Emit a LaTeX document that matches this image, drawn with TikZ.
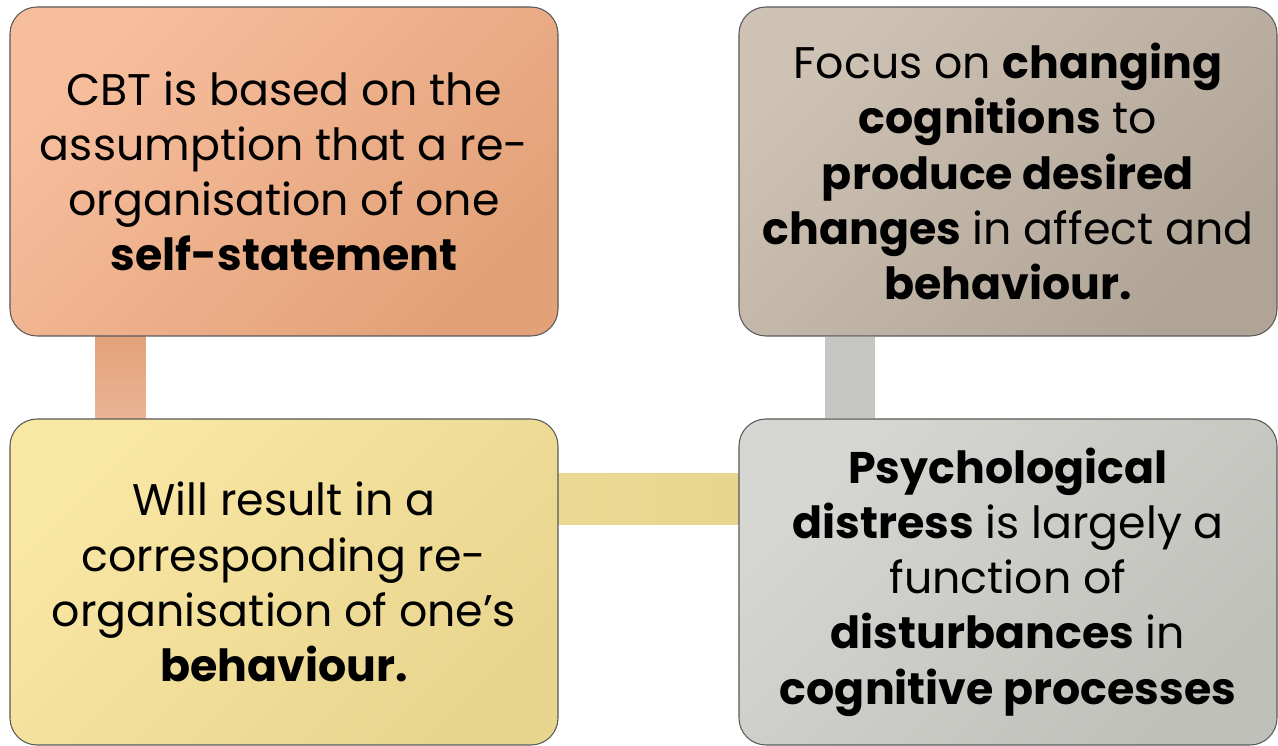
\documentclass[tikz,border=0pt]{standalone}
\usepackage{fontspec}
\setmainfont{Poppins}
\usepackage{tikz}
\usetikzlibrary{positioning, calc, backgrounds}
\definecolor{cbtlight}{RGB}{247, 190, 157}
\definecolor{cbtdark}{RGB}{226, 161, 120}
\definecolor{focuslight}{RGB}{206, 194, 180}
\definecolor{focusdark}{RGB}{176, 164, 150}
\definecolor{resultlight}{RGB}{249, 231, 164}
\definecolor{resultdark}{RGB}{232, 213, 142}
\definecolor{distresslight}{RGB}{214, 214, 210}
\definecolor{distressdark}{RGB}{192, 192, 187}

\tikzset{
    card/.style={draw=black!65, line width=0.6pt, rounded corners=0.54cm, align=center,
        font=\fontsize{25.2}{31.4}\selectfont},
}

\begin{document}
\begin{tikzpicture}
        \useasboundingbox (0,0) rectangle (25.56,14.92);

        % CBT Box
        \node[card, top color=cbtlight, bottom color=cbtdark, shading angle=45,
              minimum width=10.96cm, minimum height=6.58cm] (cbt) at (5.68,11.49) {
            CBT is based on the\\ assumption that a re-\\ organisation of one\\ \textbf{self-statement}
        };

        % Focus Box
        \node[card, top color=focuslight, bottom color=focusdark, shading angle=45,
              minimum width=10.76cm, minimum height=6.58cm] (focus) at (20.16,11.49) {
            Focus on \textbf{changing}\\ \textbf{cognitions} to\\ \textbf{produce desired}\\ \textbf{changes} in affect and\\ \textbf{behaviour.}
        };

        % Result Box
        \node[card, top color=resultlight, bottom color=resultdark, shading angle=45,
              minimum width=10.96cm, minimum height=6.52cm] (result) at (5.68,3.28) {
            Will result in a\\ corresponding re-\\ organisation of one’s\\ \textbf{behaviour.}
        };

        % Distress Box
        \node[card, top color=distresslight, bottom color=distressdark, shading angle=45,
              minimum width=10.76cm, minimum height=6.52cm] (distress) at (20.16,3.28) {
            \textbf{Psychological}\\ \textbf{distress} is largely a\\ function of\\ \textbf{disturbances} in\\ \textbf{cognitive processes}
        };

        % Links
        \begin{scope}[on background layer]
            \shade[top color=cbtdark, bottom color=cbtlight!95!black]
                ([xshift=1.72cm]cbt.south west) rectangle ([xshift=2.72cm]result.north west);
            \shade[left color=resultdark!80!resultlight, right color=resultdark]
                ([yshift=-1.1cm]result.north east) rectangle ([yshift=-2.12cm]distress.north west);
            \fill[distressdark!90!white]
                ([xshift=1.74cm]focus.south west) rectangle ([xshift=2.74cm]distress.north west);
        \end{scope}
    \end{tikzpicture}
\end{document}
